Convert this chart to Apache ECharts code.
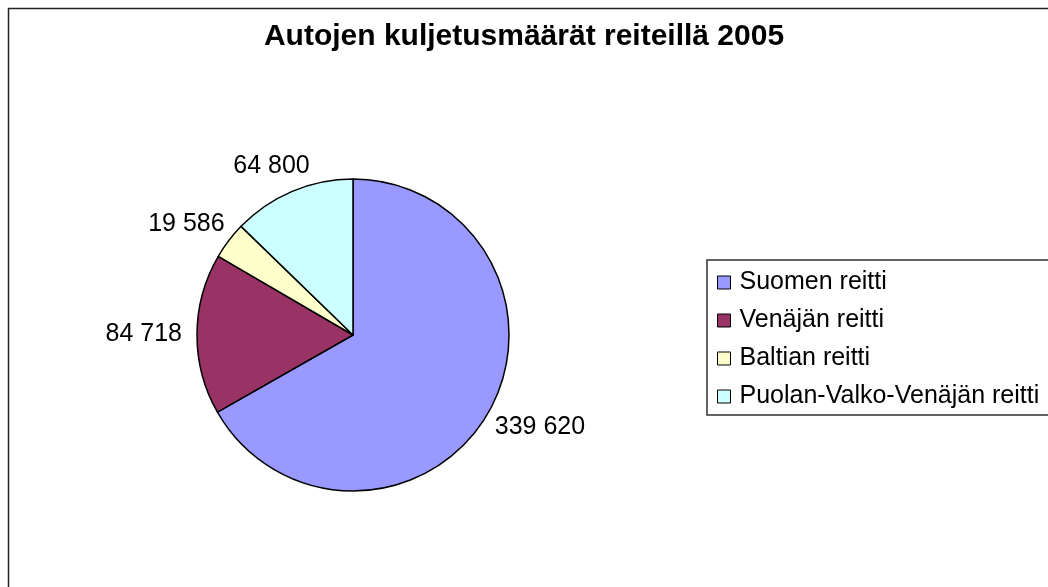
<!DOCTYPE html>
<html>
<head>
<meta charset="utf-8">
<style>
html,body{margin:0;padding:0;background:#fff;}
#chart{width:1048px;height:587px;}
</style>
<script src="https://cdn.jsdelivr.net/npm/echarts@6/dist/echarts.min.js"></script>
</head>
<body>
<div id="chart"></div>
<script>
const titleText = 'Autojen kuljetusmäärät reiteillä 2005';
const categories = ['Suomen reitti', 'Venäjän reitti', 'Baltian reitti', 'Puolan-Valko-Venäjän reitti'];
const values = [339620, 84718, 19586, 64800];
const colors = ['#9999FF', '#993366', '#FFFFCC', '#CCFFFF'];

function fmt(v) {
  return String(v).replace(/\B(?=(\d{3})+(?!\d))/g, ' ');
}

const font = 'Liberation Sans, Arial, sans-serif';
const CX = 353, CY = 335, R = 156, GAP = 15;
const total = values.reduce((a, b) => a + b, 0);
// mid angles (clockwise from 12 o'clock), derived from the data
const midAngles = [];
{
  let acc = 0;
  values.forEach(v => { midAngles.push((acc + v / 2) / total * 2 * Math.PI); acc += v; });
}

const chart = echarts.init(document.getElementById('chart'), null, {renderer: 'canvas'});
const pieData = categories.map((c, i) => ({name: c, value: values[i], itemStyle: {color: colors[i]}}));

chart.setOption({
  animation: false,
  backgroundColor: '#ffffff',
  graphic: [{
    type: 'rect', left: 6, top: 6, shape: {width: 1100, height: 700},
    style: {fill: 'none', stroke: '#222', lineWidth: 1.5}, z: -10, silent: true
  }],
  title: {
    text: titleText, left: 'center', top: 17,
    textStyle: {fontFamily: font, fontWeight: 'bold', fontSize: 30, color: '#000'}
  },
  legend: {
    orient: 'vertical', left: 707, top: 260,
    backgroundColor: '#fff', borderColor: '#333', borderWidth: 1.5,
    padding: [10, 40, 6, 10], itemGap: 13,
    itemWidth: 13, itemHeight: 13, icon: 'rect',
    itemStyle: {borderColor: '#000', borderWidth: 1},
    textStyle: {fontFamily: font, fontSize: 25, color: '#000', padding: [0, 0, 0, 4]},
    data: categories
  },
  series: [{
    type: 'pie', center: [CX, CY], radius: R,
    startAngle: 90, clockwise: true,
    itemStyle: {borderColor: '#000', borderWidth: 1.5},
    emphasis: {disabled: true},
    label: {
      show: true, position: 'outside', color: '#000',
      fontFamily: font, fontSize: 25,
      formatter: p => fmt(p.value)
    },
    labelLine: {show: false},
    labelLayout: function (params) {
      const a = midAngles[params.dataIndex];
      const dx = Math.sin(a), dy = -Math.cos(a);
      const w = params.labelRect.width, h = params.labelRect.height;
      const ax = CX + dx * (R + GAP), ay = CY + dy * (R + GAP);
      return {
        x: ax + dx * w / 2 - w / 2,
        y: ay + dy * h / 2 - h / 2,
        align: 'left', verticalAlign: 'top'
      };
    },
    data: pieData
  }]
});
</script>
</body>
</html>
